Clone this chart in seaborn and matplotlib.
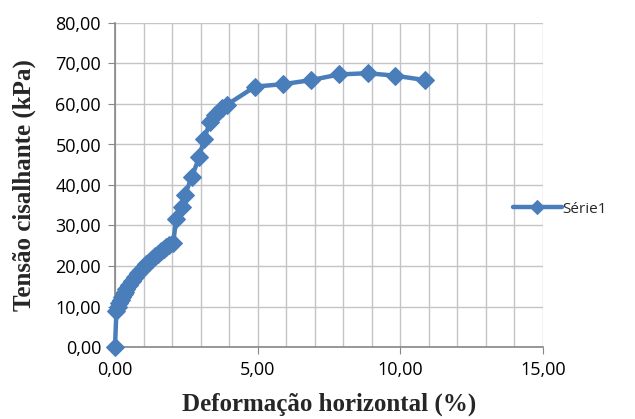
import numpy as np
import pandas as pd
import matplotlib
matplotlib.use('Agg')
import matplotlib.pyplot as plt
import seaborn as sns
from matplotlib.ticker import FuncFormatter, MultipleLocator

sns.set_style('white')

# deformação horizontal (%)
deform = [0.0, 0.05, 0.1, 0.15, 0.2, 0.25, 0.3, 0.35, 0.4, 0.5, 0.6, 0.7, 0.8, 0.9,
          1.0, 1.1, 1.2, 1.3, 1.4, 1.5, 1.6, 1.7, 1.8, 1.9, 2.04,
          2.14, 2.34, 2.45, 2.69, 2.95, 3.12, 3.33, 3.5, 3.74, 3.92,
          4.91, 5.9, 6.87, 7.86, 8.85, 9.81, 10.87]
# tensão cisalhante (kPa)
tensao = [0.0, 9.0, 10.0, 10.8, 11.6, 12.3, 13.0, 13.7, 14.3, 15.3, 16.3, 17.3, 18.3, 19.1,
          19.8, 20.5, 21.1, 21.8, 22.4, 23.0, 23.6, 24.2, 24.8, 25.3, 25.6,
          31.5, 34.5, 37.5, 42.0, 46.8, 51.3, 55.6, 57.3, 58.9, 59.8,
          64.3, 64.9, 65.9, 67.3, 67.6, 67.0, 65.9]

df = pd.DataFrame({'x': deform, 'y': tensao})

fig = plt.figure(figsize=(6.35, 4.19), dpi=100)
ax = fig.add_axes([115/635, 1-347/419, 428/635, 324/419])

sns.lineplot(data=df, x='x', y='y', ax=ax, sort=False, color='#4A7EBB', linewidth=3.2,
             marker='D', markersize=9, markeredgecolor='#4A7EBB', label='Série1',
             legend=False, clip_on=False, zorder=5)

ax.set_xlim(0, 15)
ax.set_ylim(0, 80)
ax.xaxis.set_major_locator(MultipleLocator(5))
ax.xaxis.set_minor_locator(MultipleLocator(1))
ax.yaxis.set_major_locator(MultipleLocator(10))
fmt = FuncFormatter(lambda v, p: f'{v:.2f}'.replace('.', ','))
ax.xaxis.set_major_formatter(fmt)
ax.yaxis.set_major_formatter(fmt)
ax.grid(True, which='both', color='#C4C4C4', linewidth=1)
ax.set_axisbelow(True)
for s in ['top', 'right']:
    ax.spines[s].set_visible(False)
for s in ['left', 'bottom']:
    ax.spines[s].set_color('#868686')
    ax.spines[s].set_linewidth(1.2)
ax.tick_params(axis='both', which='major', direction='out', length=5, color='#868686',
               labelsize=13, labelcolor='black', left=True, bottom=True, pad=5)
ax.tick_params(axis='x', which='minor', length=0)
for lab in ax.get_xticklabels() + ax.get_yticklabels():
    lab.set_fontfamily('Open Sans')

ax.set_xlabel('Deformação horizontal (%)', fontfamily='Liberation Serif', fontweight='bold',
              fontsize=18, labelpad=10)
ax.set_ylabel('Tensão cisalhante (kPa)', fontfamily='Liberation Serif', fontweight='bold',
              fontsize=18, labelpad=14)

h, l = ax.get_legend_handles_labels()
fig.legend(h, l, loc='center left', bbox_to_anchor=(513/635, 1-209/419), frameon=False,
           prop={'family': 'Open Sans', 'size': 11}, handlelength=3.2, handletextpad=0.05,
           borderaxespad=0, borderpad=0, markerscale=0.75)

fig.savefig('out.png', dpi=100)
